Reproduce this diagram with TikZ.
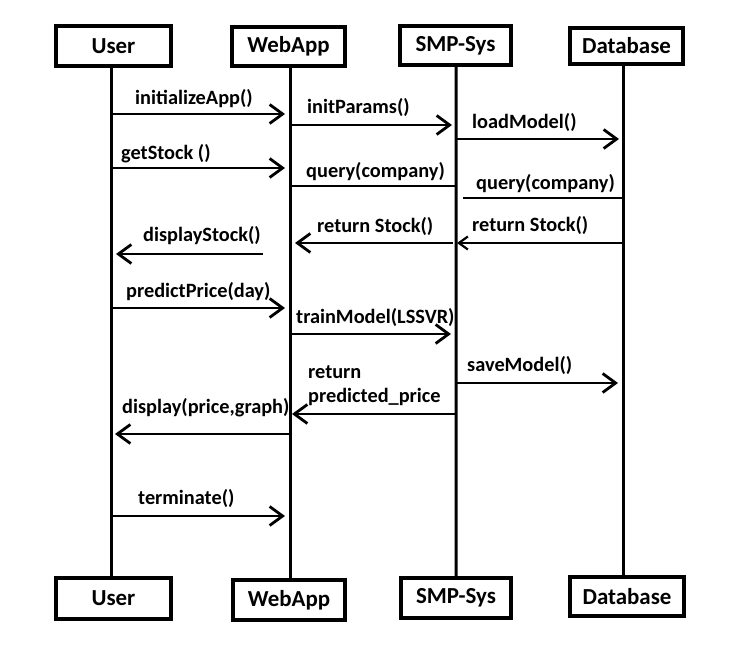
\documentclass[tikz,border=0pt]{standalone}
\usepackage{fontspec}
\setmainfont{Carlito}
\usetikzlibrary{arrows.meta}
\begin{document}
\begin{tikzpicture}[x=1bp,y=-1bp,
 actor/.style={draw,line width=4bp,fill=white,inner sep=0pt,font=\fontsize{23}{27}\selectfont\bfseries},
 life/.style={line width=3bp},
 msg/.style={line width=1.3bp,-{Straight Barb[length=13bp,width=19bp,line width=2.8bp]}},
 smallmsg/.style={line width=1.3bp,-{Straight Barb[length=9bp,width=13bp,line width=2.2bp]}},
 plainmsg/.style={line width=1.3bp},
 lbl/.style={anchor=west,inner sep=0pt,font=\fontsize{20.4}{24}\selectfont\bfseries},
]
\useasboundingbox (0,0) rectangle (744,648);
% actors top
\node[actor,minimum width=115bp,minimum height=40bp] (ut) at (113.5,46) {User};
\node[actor,minimum width=113bp,minimum height=39bp] (wt) at (288.5,46.5) {WebApp};
\node[actor,minimum width=111bp,minimum height=39bp] (st) at (455.5,45.5) {SMP-Sys};
\node[actor,minimum width=113bp,minimum height=36bp] (dt) at (626.5,46) {Database};
% actors bottom
\node[actor,minimum width=115bp,minimum height=41bp] (ub) at (113.5,598.5) {User};
\node[actor,minimum width=112bp,minimum height=40bp] (wb) at (289,600) {WebApp};
\node[actor,minimum width=110bp,minimum height=40bp] (sb) at (456,598) {SMP-Sys};
\node[actor,minimum width=114bp,minimum height=39bp] (db) at (627,596.5) {Database};
% lifelines
\draw[life] ([xshift=-2.5bp]ut.south) -- ([xshift=-2.5bp]ub.north);
\draw[life] ([xshift=1.5bp]wt.south) -- ([xshift=1bp]wb.north);
\draw[life] ([xshift=0.5bp]st.south) -- ([xshift=0bp]sb.north);
\draw[life] ([xshift=-3.5bp]dt.south) -- ([xshift=-4bp]db.north);
% message anchors
\coordinate (a1) at (112,114); \coordinate (b1) at (285,114);
\coordinate (a2) at (291,125); \coordinate (b2) at (452,125);
\coordinate (a3) at (457,139); \coordinate (b3) at (619,139);
\coordinate (a4) at (112,168); \coordinate (b4) at (285,168);
\coordinate (a5) at (291,186); \coordinate (b5) at (456,186);
\coordinate (a6) at (463,198); \coordinate (b6) at (623,198);
\coordinate (a7) at (623,243); \coordinate (b7) at (457,243);
\coordinate (a8) at (453,243); \coordinate (b8) at (295,243);
\coordinate (a9) at (263,254); \coordinate (b9) at (116,254);
\coordinate (a10) at (112,308); \coordinate (b10) at (285,308);
\coordinate (a11) at (292,334); \coordinate (b11) at (451,334);
\coordinate (a12) at (457,383); \coordinate (b12) at (618,383);
\coordinate (a13) at (456,414); \coordinate (b13) at (292,414);
\coordinate (a14) at (290,434); \coordinate (b14) at (115,434);
\coordinate (a15) at (112,516); \coordinate (b15) at (285,516);
% messages
\draw[msg] (a1) -- (b1);
\draw[msg] (a2) -- (b2);
\draw[msg] (a3) -- (b3);
\draw[msg] (a4) -- (b4);
\draw[plainmsg] (a5) -- (b5);
\draw[plainmsg] (a6) -- (b6);
\draw[smallmsg] (a7) -- (b7);
\draw[msg] (a8) -- (b8);
\draw[msg] (a9) -- (b9);
\draw[msg] (a10) -- (b10);
\draw[msg] (a11) -- (b11);
\draw[msg] (a12) -- (b12);
\draw[msg] (a13) -- (b13);
\draw[msg] (a14) -- (b14);
\draw[msg] (a15) -- (b15);
% labels
\node[lbl] (l1) at (135,99) {initializeApp()};
\node[lbl] (l2) at (307,107) {initParams()};
\node[lbl] (l3) at (472,122) {loadModel()};
\node[lbl] (l4) at (121,154) {getStock ()};
\node[lbl] (l5) at (306,172) {query(company)};
\node[lbl] (l6) at (476,184) {query(company)};
\node[lbl] (l7) at (472,225) {return Stock()};
\node[lbl] (l8) at (317,226) {return Stock()};
\node[lbl] (l9) at (143,236) {displayStock()};
\node[lbl] (l10) at (126,292) {predictPrice(day)};
\node[lbl] (l11) at (296,317) {trainModel(LSSVR)};
\node[lbl] (l12) at (467,365) {saveModel()};
\node[lbl,align=left] (l13) at (308,386) {return\\predicted\_price};
\node[lbl] (l14) at (122,408) {display(price,graph)};
\node[lbl] (l15) at (138,498) {terminate()};
\end{tikzpicture}
\end{document}
